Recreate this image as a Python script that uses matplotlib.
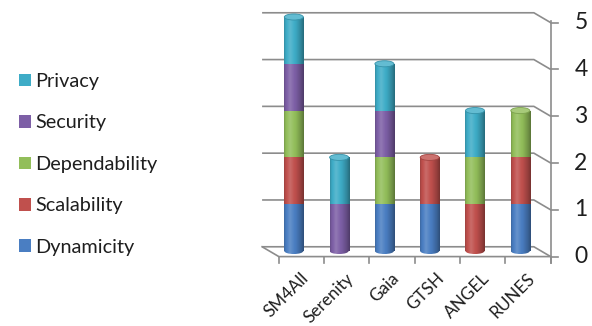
import numpy as np
import matplotlib
matplotlib.use("Agg")
import matplotlib.pyplot as plt
from matplotlib.patches import Rectangle, Ellipse, Patch
from matplotlib.colors import to_rgb

# ---- data -------------------------------------------------------------
categories = ["SM4All", "Serenity", "Gaia", "GTSH", "ANGEL", "RUNES"]
series_names = ["Dynamicity", "Scalability", "Dependability", "Security", "Privacy"]
dynamicity = [1, 0, 1, 1, 0, 1]
scalability = [1, 0, 0, 1, 1, 1]
dependability = [1, 0, 1, 0, 1, 1]
security = [1, 1, 1, 0, 0, 0]
privacy = [1, 1, 1, 0, 1, 0]
series_values = [dynamicity, scalability, dependability, security, privacy]
series_colors = ["#4A7EC2", "#C0504D", "#92BE5A", "#7D5FA6", "#3EACC7"]
y_ticks = [0, 1, 2, 3, 4, 5]

# ---- style ------------------------------------------------------------
plt.rcParams["font.family"] = ["Lato", "DejaVu Sans"]
GRID = "#8c8c8c"
TEXT = "#1e1e1e"

# depth offsets of the back wall / front plane relative to the cylinders
BACK_DX, BACK_DY = -0.20, 0.09
FRONT_DX, FRONT_DY = 0.17, -0.12
BAR_W = 0.42
CAP_H = 0.13

fig = plt.figure(figsize=(5.92, 3.26), dpi=100)
ax = fig.add_axes([0, 0, 1, 1])
ax.axis("off")

n = len(categories)
x_left, x_right = -0.5, n - 0.5


def shade(color, f):
    c = np.array(to_rgb(color))
    if f >= 1:
        return np.clip(c + (1 - c) * (f - 1) * 1.6, 0, 1)
    return np.clip(c * f, 0, 1)


t = np.linspace(0, 1, 64)
profile = np.interp(t, [0, 0.08, 0.3, 0.6, 0.85, 1.0],
                    [0.82, 0.97, 1.10, 0.97, 0.78, 0.62])


def gradient(color):
    return np.array([[shade(color, f) for f in profile]])


# back wall gridlines with their diagonal run to the value axis
for v in y_ticks:
    xs = [x_left + BACK_DX, x_right + BACK_DX, x_right + FRONT_DX]
    ys = [v + BACK_DY, v + BACK_DY, v + FRONT_DY]
    ax.plot(xs, ys, color=GRID, lw=1.2, zorder=1, solid_capstyle="butt")

# floor outline
ax.plot([x_left + BACK_DX, x_left + FRONT_DX, x_right + FRONT_DX],
        [BACK_DY, FRONT_DY, FRONT_DY], color=GRID, lw=1.2, zorder=1)

# value axis
ax_x = x_right + FRONT_DX
tick_len_x = 0.17
tick_len_y = 0.13
ax.plot([ax_x, ax_x], [FRONT_DY - tick_len_y, y_ticks[-1] + FRONT_DY + 0.04],
        color=GRID, lw=1.2, zorder=1)
for v in y_ticks:
    ax.plot([ax_x, ax_x + tick_len_x], [v + FRONT_DY, v + FRONT_DY],
            color=GRID, lw=1.2, zorder=1)
    ax.text(ax_x + 0.67, v + FRONT_DY, str(v), ha="center", va="center",
            fontsize=16.5, color=TEXT)

# category ticks on the front edge of the floor
for k in range(n + 1):
    xb = x_left + k + FRONT_DX
    ax.plot([xb, xb], [FRONT_DY, FRONT_DY - tick_len_y], color=GRID, lw=1.2,
            zorder=1)

for i, cat in enumerate(categories):
    ax.text(i + FRONT_DX + 0.1, FRONT_DY - 0.41, cat, rotation=45,
            rotation_mode="anchor", ha="right", va="center", fontsize=12.3,
            color=TEXT)

# stacked cylinders
for i in range(n):
    bottom = 0.0
    first_color = None
    last_color = None
    for vals, color in zip(series_values, series_colors):
        v = vals[i]
        if v <= 0:
            continue
        if first_color is None:
            first_color = color
        y0, y1 = bottom, bottom + v
        rect = Rectangle((i - BAR_W / 2, y0), BAR_W, v, transform=ax.transData)
        im = ax.imshow(gradient(color), extent=(i - BAR_W / 2, i + BAR_W / 2, y0, y1),
                       aspect="auto", interpolation="bilinear", zorder=3)
        im.set_clip_path(rect)
        bottom = y1
        last_color = color
    if first_color is None:
        continue
    base = Ellipse((i, 0), BAR_W, CAP_H, transform=ax.transData)
    im = ax.imshow(gradient(first_color),
                   extent=(i - BAR_W / 2, i + BAR_W / 2, -CAP_H / 2, CAP_H / 2),
                   aspect="auto", interpolation="bilinear", zorder=2.9)
    im.set_clip_path(base)
    cap = Ellipse((i, bottom), BAR_W, CAP_H, facecolor=shade(last_color, 1.12),
                  edgecolor=shade(last_color, 0.85), lw=0.6, zorder=4)
    ax.add_patch(cap)

ax.set_xlim(-6.486, 6.583)
ax.set_ylim(-1.603, 5.363)

# legend, top entry is the highest stack segment
handles = [Patch(facecolor=c, edgecolor="none", label=s)
           for s, c in zip(series_names[::-1], series_colors[::-1])]
fig.legend(handles=handles, loc="upper left", bbox_to_anchor=(19 / 592, 1 - 73 / 326),
           frameon=False, fontsize=14.3, handlelength=0.6, handleheight=0.6,
           handletextpad=0.2, labelspacing=1.23, borderaxespad=0, borderpad=0,
           labelcolor=TEXT)

fig.savefig("out.png", dpi=100)
